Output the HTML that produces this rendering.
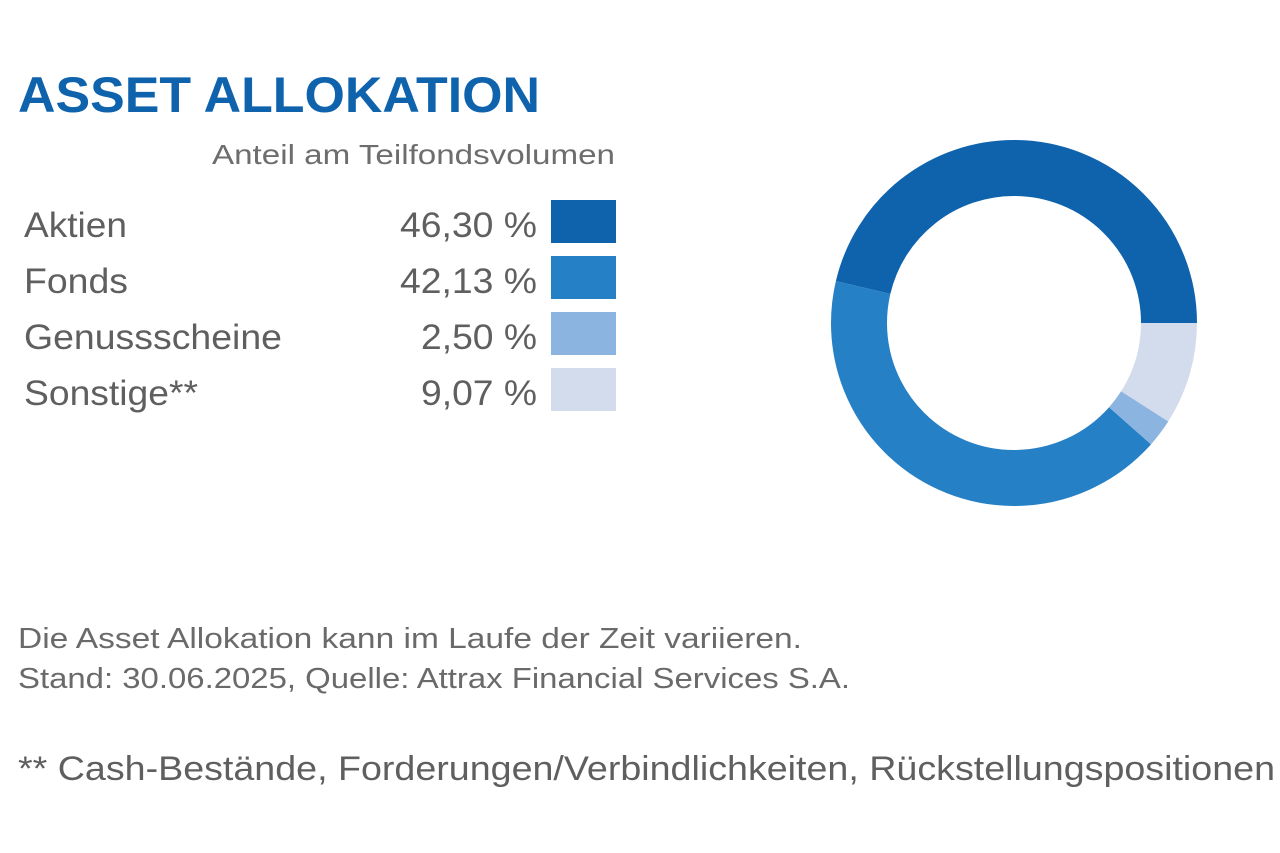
<!DOCTYPE html>
<html><head><meta charset="utf-8"><style>
html,body{margin:0;padding:0;background:#fff;}
svg{display:block}
</style></head><body>
<svg width="1280" height="853" viewBox="0 0 1280 853" xmlns="http://www.w3.org/2000/svg" font-family="Liberation Sans, Arial, sans-serif">
<rect width="1280" height="853" fill="#fff"/>
<text x="18" y="112" font-size="50" font-weight="bold" fill="#0f63ad" textLength="522" lengthAdjust="spacingAndGlyphs">ASSET ALLOKATION</text>
<text x="212" y="164" font-size="28" fill="#6d6d6d" textLength="403" lengthAdjust="spacingAndGlyphs">Anteil am Teilfondsvolumen</text>
<g font-size="35" fill="#5f5f5f">
<text x="24" y="237" textLength="103" lengthAdjust="spacingAndGlyphs">Aktien</text>
<text x="24" y="293" textLength="104" lengthAdjust="spacingAndGlyphs">Fonds</text>
<text x="24" y="349" textLength="258" lengthAdjust="spacingAndGlyphs">Genussscheine</text>
<text x="24" y="405" textLength="174" lengthAdjust="spacingAndGlyphs">Sonstige**</text>
<text x="400" y="237" textLength="137" lengthAdjust="spacingAndGlyphs">46,30 %</text>
<text x="400" y="293" textLength="137" lengthAdjust="spacingAndGlyphs">42,13 %</text>
<text x="421" y="349" textLength="116" lengthAdjust="spacingAndGlyphs">2,50 %</text>
<text x="421" y="405" textLength="116" lengthAdjust="spacingAndGlyphs">9,07 %</text>
</g>
<rect x="551" y="200" width="65" height="43" fill="#0f63ad"/>
<rect x="551" y="256" width="65" height="43" fill="#2680c5"/>
<rect x="551" y="312" width="65" height="43" fill="#8cb4e0"/>
<rect x="551" y="368" width="65" height="43" fill="#d3dced"/>
<g transform="translate(1014,323) scale(1,-1)" fill="none" stroke-width="56">
<circle r="155" stroke="#0f63ad" stroke-dasharray="450.9 1000" stroke-dashoffset="0"/>
<circle r="155" stroke="#2680c5" stroke-dasharray="410.3 1000" stroke-dashoffset="-450.9"/>
<circle r="155" stroke="#8cb4e0" stroke-dasharray="24.35 1000" stroke-dashoffset="-861.2"/>
<circle r="155" stroke="#d3dced" stroke-dasharray="88.4 1000" stroke-dashoffset="-885.55"/>
</g>
<g font-size="29" fill="#6a6a6a">
<text x="18" y="648" textLength="784" lengthAdjust="spacingAndGlyphs">Die Asset Allokation kann im Laufe der Zeit variieren.</text>
<text x="18" y="688" textLength="832" lengthAdjust="spacingAndGlyphs">Stand: 30.06.2025, Quelle: Attrax Financial Services S.A.</text>
</g>
<text x="18" y="780" font-size="34" fill="#5f5f5f" textLength="1257" lengthAdjust="spacingAndGlyphs">** Cash-Bestände, Forderungen/Verbindlichkeiten, Rückstellungspositionen</text>
</svg>
</body></html>
